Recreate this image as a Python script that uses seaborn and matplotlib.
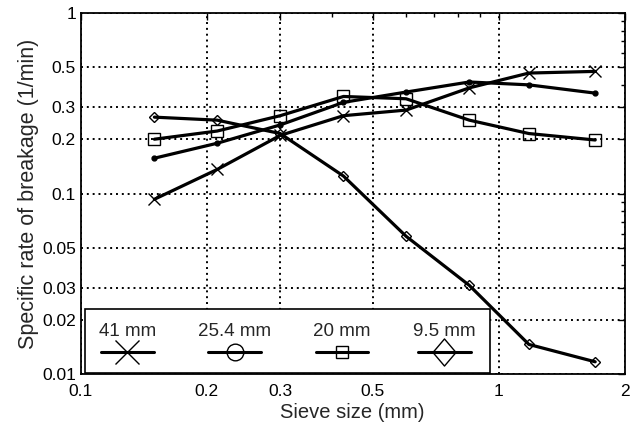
import matplotlib
matplotlib.use("Agg")
import matplotlib.pyplot as plt
import seaborn as sns
import numpy as np
import pandas as pd
from matplotlib.lines import Line2D
from matplotlib.path import Path
from matplotlib.offsetbox import VPacker
from matplotlib.ticker import FixedLocator, LogLocator, NullFormatter

# sieve sizes (mm) and specific rates of breakage (1/min)
sieve = [0.15, 0.212, 0.3, 0.425, 0.6, 0.85, 1.18, 1.7]
rate_41 = [0.093, 0.136, 0.21, 0.27, 0.29, 0.385, 0.465, 0.475]
rate_254 = [0.157, 0.19, 0.24, 0.32, 0.365, 0.415, 0.40, 0.36]
rate_20 = [0.20, 0.222, 0.27, 0.345, 0.335, 0.255, 0.215, 0.198]
rate_95 = [0.265, 0.255, 0.215, 0.125, 0.058, 0.031, 0.0146, 0.0117]
labels = ["41 mm", "25.4 mm", "20 mm", "9.5 mm"]

xticks = [0.1, 0.2, 0.3, 0.5, 1, 2]
xticklabels = ["0.1", "0.2", "0.3", "0.5", "1", "2"]
yticks = [0.01, 0.02, 0.03, 0.05, 0.1, 0.2, 0.3, 0.5, 1]
yticklabels = ["0.01", "0.02", "0.03", "0.05", "0.1", "0.2", "0.3", "0.5", "1"]

sns.set_style("white")
plt.rcParams['font.family'] = ['Liberation Sans', 'DejaVu Sans']

fig = plt.figure(figsize=(6.31, 4.34), dpi=100)
ax = fig.add_axes([0.128, 0.138, 0.862, 0.832])

# a diamond that is a bit taller than wide, like the legend one
tall_diamond = Path([(0, 1), (0.85, 0), (0, -1), (-0.85, 0), (0, 1)],
                    [Path.MOVETO, Path.LINETO, Path.LINETO, Path.LINETO, Path.CLOSEPOLY])

styles = {
    "41 mm": dict(marker="x", ms=9, mfc="k"),
    "25.4 mm": dict(marker="o", ms=3.5, mfc="k"),
    "20 mm": dict(marker="s", ms=8.5, mfc="none"),
    "9.5 mm": dict(marker="D", ms=5.5, mfc="none"),
}
leg_styles = {
    "41 mm": dict(marker="x", ms=17, mfc="none"),
    "25.4 mm": dict(marker="o", ms=12, mfc="none"),
    "20 mm": dict(marker="s", ms=9, mfc="none"),
    "9.5 mm": dict(marker=tall_diamond, ms=19.5, mfc="none"),
}

df = pd.DataFrame({
    "sieve": sieve * 4,
    "rate": rate_41 + rate_254 + rate_20 + rate_95,
    "size": np.repeat(labels, len(sieve)),
})

for lab in labels:
    sub = df[df["size"] == lab]
    st = styles[lab]
    sns.lineplot(data=sub, x="sieve", y="rate", ax=ax, color="k", lw=2.3,
                 marker=st["marker"], markersize=st["ms"], markerfacecolor=st["mfc"],
                 markeredgecolor="k", markeredgewidth=1.0, legend=False,
                 estimator=None, sort=False)

ax.set_xscale("log")
ax.set_yscale("log")
ax.set_xlim(0.1, 2)
ax.set_ylim(0.01, 1)

ax.xaxis.set_major_locator(FixedLocator(xticks))
ax.set_xticklabels(xticklabels)
ax.yaxis.set_major_locator(FixedLocator(yticks))
ax.set_yticklabels(yticklabels)
ax.xaxis.set_minor_locator(LogLocator(base=10, subs=np.arange(2, 10)))
ax.yaxis.set_minor_locator(LogLocator(base=10, subs=np.arange(2, 10)))
ax.xaxis.set_minor_formatter(NullFormatter())
ax.yaxis.set_minor_formatter(NullFormatter())

ax.tick_params(which="both", direction="in", top=True, right=True, colors="k",
               labelsize=12.5)
ax.tick_params(which="major", length=5, width=1)
ax.tick_params(which="minor", length=3, width=1)
ax.tick_params(axis="x", pad=7)

ax.grid(True, which="major", color="k", linestyle=(0, (1, 2)), linewidth=1.4)
for sp in ax.spines.values():
    sp.set_color("k")
    sp.set_linewidth(1.3)

ax.set_xlabel("Sieve size (mm)", fontsize=14.5, labelpad=3)
ax.set_ylabel("Specific rate of breakage (1/min)", fontsize=15.5, labelpad=2)

handles = []
for lab in labels:
    st = leg_styles[lab]
    handles.append(Line2D([], [], color="k", lw=2.2, marker=st["marker"], markersize=st["ms"],
                          markerfacecolor=st["mfc"], markeredgecolor="k",
                          markeredgewidth=1.0))

leg = ax.legend(handles, labels, ncol=4, loc="lower left", bbox_to_anchor=(0.007, 0.003),
                borderaxespad=0, frameon=True, fancybox=False, edgecolor="k",
                framealpha=1, fontsize=13.5, handlelength=2.8, columnspacing=2.25,
                borderpad=0.75, handletextpad=0.0)
leg.get_frame().set_linewidth(1.2)

# MATLAB style: labels sit above their line samples
for col in leg._legend_handle_box.get_children():
    new_items = []
    for item in col.get_children():
        h, t = item.get_children()
        box = VPacker(children=[t, h], align="center", pad=0, sep=4)
        box.set_figure(fig)
        new_items.append(box)
    col._children = new_items

fig.savefig("out.png", dpi=100, facecolor="white")
